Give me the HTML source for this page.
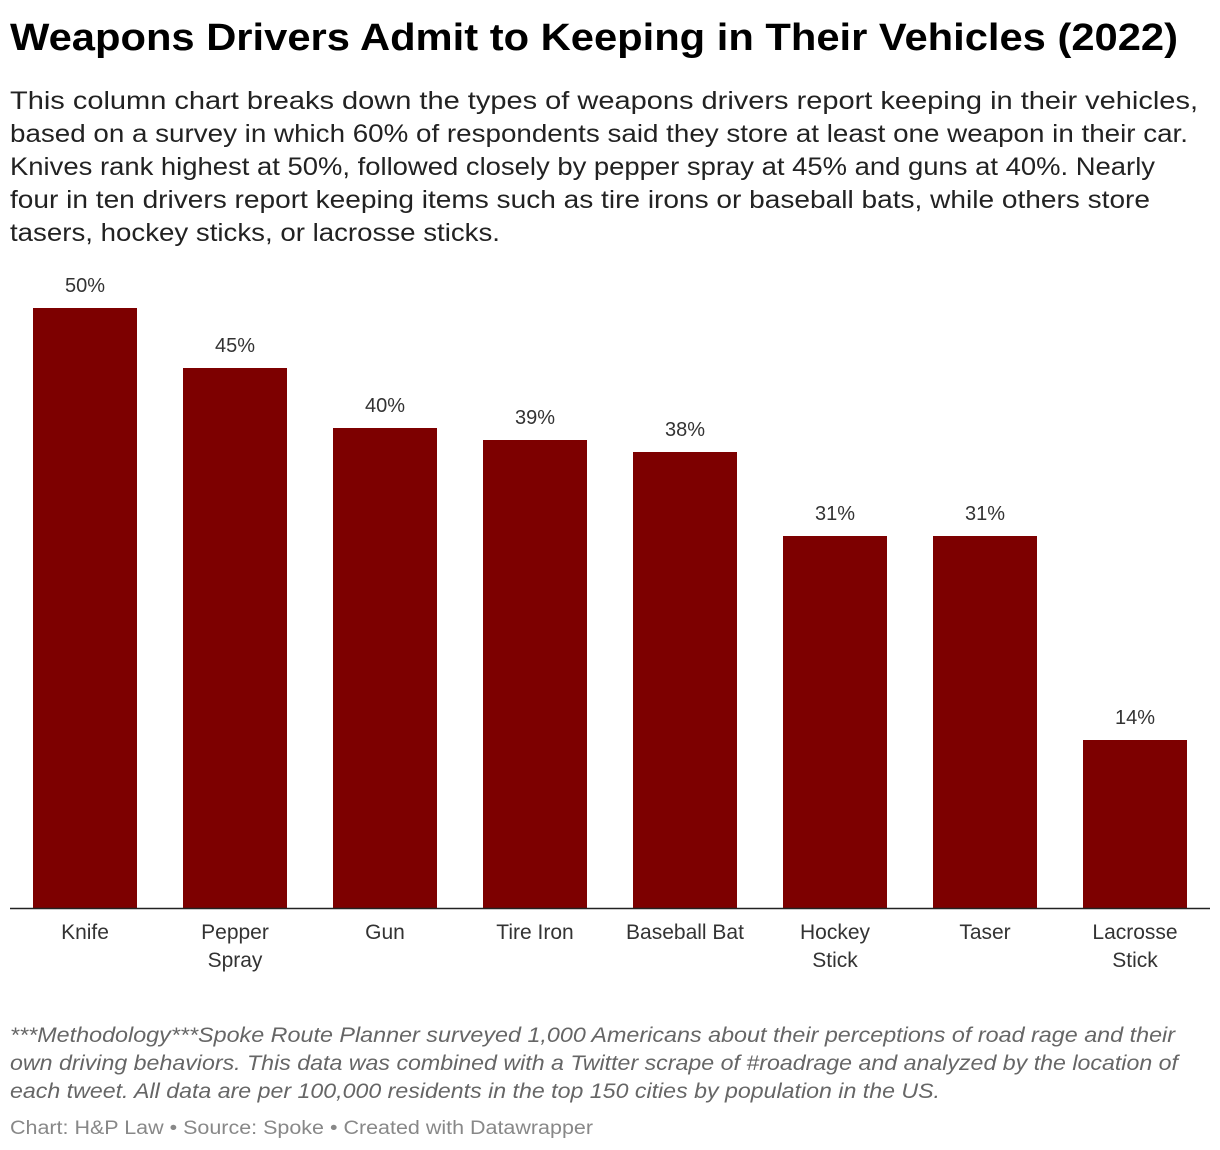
<!DOCTYPE html>
<html><head><meta charset="utf-8"><style>
body{margin:0;background:#fff;font-family:"Liberation Sans",sans-serif;color:#222;}
#wrap{position:relative;width:1220px;height:1150px;overflow:hidden;}
svg{position:absolute;left:0;top:0;}
</style></head><body>
<div id="wrap">
<svg width="1220" height="1150" font-family="Liberation Sans, sans-serif">
<text x="10" y="50" font-size="38" font-weight="bold" fill="#000" textLength="1168" lengthAdjust="spacingAndGlyphs">Weapons Drivers Admit to Keeping in Their Vehicles (2022)</text>
<g font-size="25" fill="#222">
<text x="10" y="109" textLength="1188" lengthAdjust="spacingAndGlyphs">This column chart breaks down the types of weapons drivers report keeping in their vehicles,</text>
<text x="10" y="142" textLength="1178" lengthAdjust="spacingAndGlyphs">based on a survey in which 60% of respondents said they store at least one weapon in their car.</text>
<text x="10" y="175" textLength="1145" lengthAdjust="spacingAndGlyphs">Knives rank highest at 50%, followed closely by pepper spray at 45% and guns at 40%. Nearly</text>
<text x="10" y="208" textLength="1140" lengthAdjust="spacingAndGlyphs">four in ten drivers report keeping items such as tire irons or baseball bats, while others store</text>
<text x="10" y="241" textLength="490" lengthAdjust="spacingAndGlyphs">tasers, hockey sticks, or lacrosse sticks.</text>
</g>
<g font-size="21" font-style="italic" fill="#666">
<text x="10" y="1042" textLength="1165" lengthAdjust="spacingAndGlyphs">***Methodology***Spoke Route Planner surveyed 1,000 Americans about their perceptions of road rage and their</text>
<text x="10" y="1070" textLength="1168" lengthAdjust="spacingAndGlyphs">own driving behaviors. This data was combined with a Twitter scrape of #roadrage and analyzed by the location of</text>
<text x="10" y="1098" textLength="930" lengthAdjust="spacingAndGlyphs">each tweet. All data are per 100,000 residents in the top 150 cities by population in the US.</text>
</g>
<text x="10" y="1134" font-size="19" fill="#888" textLength="583" lengthAdjust="spacingAndGlyphs">Chart: H&amp;P Law • Source: Spoke • Created with Datawrapper</text>
</svg>
<svg id="chart" width="1220" height="1150"></svg>
</div>
<script>
const categories=[["Knife"],["Pepper","Spray"],["Gun"],["Tire Iron"],["Baseball Bat"],["Hockey","Stick"],["Taser"],["Lacrosse","Stick"]];
const values=[50,45,40,39,38,31,31,14];
const valueLabels=["50%","45%","40%","39%","38%","31%","31%","14%"];
const NS="http://www.w3.org/2000/svg";
const svg=document.getElementById('chart');
const left=10,band=150,barW=104,base=908,pxPer=12;
const x=i=>left+i*band+(band-barW)/2;
const y=v=>base-v*pxPer;
function mk(t,a){const e=document.createElementNS(NS,t);for(const k in a)e.setAttribute(k,a[k]);svg.appendChild(e);return e;}
values.forEach((v,i)=>{
  const r=mk('rect',{x:x(i),y:y(v),width:barW,height:base-y(v),fill:'#7d0000'});
  
  
  const t=mk('text',{x:x(i)+barW/2,y:y(v)-16,'text-anchor':'middle','font-size':'20','fill':'#333','font-family':'Liberation Sans, sans-serif'});
  t.textContent=valueLabels[i];
  
  
  categories[i].forEach((line,j)=>{
    const c=mk('text',{x:x(i)+barW/2,y:939+j*28,'text-anchor':'middle','font-size':'21','fill':'#333','font-family':'Liberation Sans, sans-serif'});
    c.textContent=line;
    
    
  });
});
const ax=mk('line',{x1:10,x2:1210,y1:base+0.5,y2:base+0.5,stroke:'#222','stroke-width':'1.5'});


</script>
</body></html>
